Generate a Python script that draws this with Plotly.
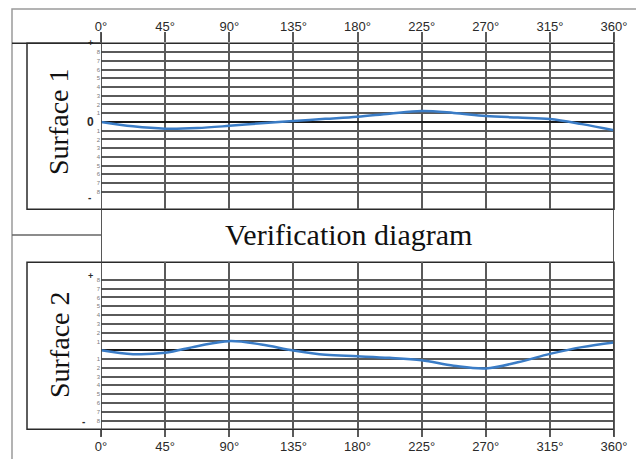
import plotly.graph_objects as go

# ---- data ----
angles = [0, 22.5, 45, 67.5, 90, 112.5, 135, 157.5, 180, 202.5, 225, 247.5, 270, 292.5, 315, 337.5, 360]
surface1 = [0, -0.5, -0.77, -0.7, -0.45, -0.15, 0.1, 0.35, 0.6, 0.95, 1.25, 1.03, 0.68, 0.5, 0.33, -0.25, -0.95]
surface2 = [0, -0.45, -0.3, 0.46, 1.03, 0.65, -0.03, -0.53, -0.69, -0.87, -1.15, -1.76, -2.07, -1.37, -0.42, 0.35, 0.89]
deg_ticks = [0, 45, 90, 135, 180, 225, 270, 315, 360]
deg_labels = [f"{d}°" for d in deg_ticks]
y_ticks = [-8, -7, -6, -5, -4, -3, -2, -1, 1, 2, 3, 4, 5, 6, 7, 8]
y_labels = [str(abs(v)) for v in y_ticks]

# page body adds an 8px margin; layout coordinates below are given in window pixels
OFF = 8
W, H = 644 - OFF, 459 - OFF
def px(x):
    return (x - OFF) / W
def py(y):
    return 1 - (y - OFF) / H

blue = "#3a7cc6"
grid = "#5a5a5a"
dark = "#2a2a2a"

fig = go.Figure()
fig.add_trace(go.Scatter(x=angles, y=surface1, mode="lines", line=dict(color=blue, width=2.5, shape="spline"),
                         xaxis="x", yaxis="y", showlegend=False, hoverinfo="skip"))
fig.add_trace(go.Scatter(x=angles, y=surface2, mode="lines", line=dict(color=blue, width=2.5, shape="spline"),
                         xaxis="x2", yaxis="y2", showlegend=False, hoverinfo="skip"))

xdom = [px(101), px(614)]
common_x = dict(range=[0, 360], tickvals=deg_ticks, ticktext=deg_labels, showgrid=True, gridcolor=grid,
                gridwidth=1.6, zeroline=False, ticks="outside", tickcolor=grid, tickwidth=1.6,
                tickfont=dict(family="Liberation Sans, Arial", size=13, color=dark), showline=False,
                fixedrange=True, automargin=False)
common_y = dict(tickvals=y_ticks, ticktext=y_labels, showgrid=True, gridcolor=grid, gridwidth=1.6,
                zeroline=True, zerolinecolor="#1a1a1a", zerolinewidth=2, showline=False, ticks="",
                tickfont=dict(family="Liberation Sans, Arial", size=6, color="#7a7a7a"), ticklabelstandoff=0,
                fixedrange=True, automargin=False)

fig.update_layout(
    width=W, height=H, margin=dict(l=0, r=0, t=0, b=0, pad=0, autoexpand=False),
    paper_bgcolor="white", plot_bgcolor="white", showlegend=False,
    xaxis=dict(domain=xdom, anchor="y", side="top", ticklen=10, ticklabelstandoff=-4, **common_x),
    yaxis=dict(domain=[py(209.3), py(43.3)], anchor="x", range=[-10, 9], **common_y),
    xaxis2=dict(domain=xdom, anchor="y2", side="bottom", ticklen=7, ticklabelstandoff=-2, **common_x),
    yaxis2=dict(domain=[py(429.3), py(262.3)], anchor="x2", range=[-9, 10], **common_y),
)

shapes = []
# outer frame
shapes.append(dict(type="rect", xref="paper", yref="paper", x0=px(12), x1=px(637), y0=-0.1, y1=py(9),
                   line=dict(color="#9a9a9a", width=1.5)))
# header separator and middle separator on the left
shapes.append(dict(type="line", xref="paper", yref="paper", x0=px(12), x1=px(101), y0=py(43.3), y1=py(43.3),
                   line=dict(color=dark, width=1.5)))
shapes.append(dict(type="line", xref="paper", yref="paper", x0=px(12), x1=px(101), y0=py(235), y1=py(235),
                   line=dict(color="#666", width=1.5)))
# surface boxes
for top, bot in [(43.3, 209.3), (262.3, 429.3)]:
    shapes.append(dict(type="rect", xref="paper", yref="paper", x0=px(27), x1=px(614), y0=py(bot), y1=py(top),
                       line=dict(color=dark, width=1.5), layer="below"))
# full-height 0° and 360° lines
for xv in [0, 360]:
    shapes.append(dict(type="line", xref="x", yref="paper", x0=xv, x1=xv, y0=py(436), y1=py(33),
                       line=dict(color="#444", width=1.8)))
fig.update_layout(shapes=shapes)

ann = []
serif = "Liberation Serif, Times New Roman, serif"
for text, cx, cy, ang, size in [("Surface 1", 59, 122, -90, 28), ("Surface 2", 59, 345, -90, 28),
                                ("Verification diagram", 348, 234, 0, 30)]:
    ann.append(dict(text=text, xref="paper", yref="paper", x=px(cx), y=py(cy), textangle=ang,
                    xanchor="center", yanchor="middle", showarrow=False,
                    font=dict(family=serif, size=size, color="#111")))
# axis sign markers
ann.append(dict(text="<b>0</b>", xref="x", yref="y", x=0, y=0, xanchor="right", xshift=-5, showarrow=False,
                font=dict(family="Liberation Sans, Arial", size=12, color=dark)))
for yref, plus_y, minus_y in [("y", 9, -8.6), ("y2", 8.4, -8.1)]:
    ann.append(dict(text="<b>+</b>", xref="x" if yref == "y" else "x2", yref=yref, x=0, y=plus_y,
                    xanchor="right", xshift=-6, showarrow=False,
                    font=dict(family="Liberation Sans, Arial", size=9, color=dark)))
    ann.append(dict(text="<b>-</b>", xref="x" if yref == "y" else "x2", yref=yref, x=0, y=minus_y,
                    xanchor="right", xshift=-8 if yref == "y" else -14, showarrow=False,
                    font=dict(family="Liberation Sans, Arial", size=10, color=dark)))
fig.update_layout(annotations=ann)

fig.write_html("out.html")
